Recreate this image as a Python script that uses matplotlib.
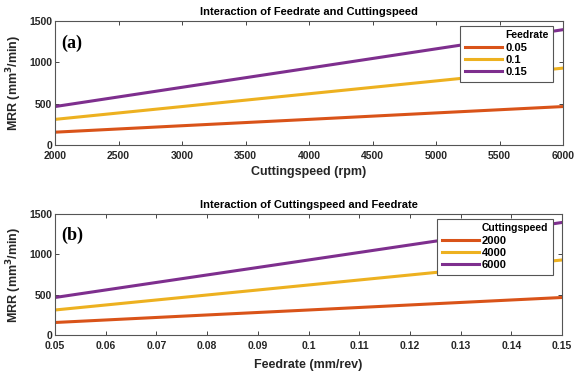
import matplotlib
matplotlib.use("Agg")
import matplotlib.pyplot as plt
from matplotlib.lines import Line2D

plt.rcParams['font.family'] = ['Liberation Sans', 'DejaVu Sans']
plt.rcParams['font.weight'] = 'bold'

# values
speed = [2000, 3000, 4000, 5000, 6000]
mrr_f005 = [155, 233, 310, 388, 465]
mrr_f010 = [310, 465, 620, 775, 930]
mrr_f015 = [465, 698, 930, 1163, 1395]

feed = [0.05, 0.075, 0.10, 0.125, 0.15]
mrr_v2000 = [155, 233, 310, 388, 465]
mrr_v4000 = [310, 465, 620, 775, 930]
mrr_v6000 = [465, 698, 930, 1163, 1395]

colors = ['#D95319', '#EDB120', '#7E2F8E']
dark = '#262626'

W, H = 581, 373
fig = plt.figure(figsize=(W / 100, H / 100), dpi=100)
ax1 = fig.add_axes([55 / W, 1 - 145 / H, 508 / W, 124 / H])
ax2 = fig.add_axes([55 / W, 1 - 335 / H, 507 / W, 121 / H])


def style(ax):
    ax.set_ylim(0, 1500)
    ax.set_yticks([0, 500, 1000, 1500])
    ax.tick_params(direction='in', length=3, width=0.6, colors=dark,
                   labelsize=7.5, top=True, right=True, pad=2)
    ax.tick_params(axis='x', pad=4)
    for sp in ax.spines.values():
        sp.set_color('#555555')
        sp.set_linewidth(0.8)
    ax.set_ylabel('MRR (mm$^{\\mathbf{3}}$/min)', fontsize=9, fontweight='bold',
                  color=dark, labelpad=4)


def legend(ax, title, anchor):
    # title drawn as a first legend row (no handle) so it sits over the label column
    blank = Line2D([], [], color='none')
    handles, labels = ax.get_legend_handles_labels()
    leg = ax.legend([blank] + handles, [title] + labels, loc='upper right',
                    bbox_to_anchor=anchor, fontsize=8, frameon=True, fancybox=False,
                    edgecolor='#555555', handlelength=3.4, handletextpad=0.25,
                    labelspacing=0.2, borderpad=0.4, borderaxespad=0, framealpha=1)
    leg.get_texts()[0].set_fontsize(7.5)
    leg.get_frame().set_linewidth(0.8)
    return leg


# panel (a)
for y, lab, c in zip([mrr_f005, mrr_f010, mrr_f015], ['0.05', '0.1', '0.15'], colors):
    ax1.plot(speed, y, color=c, lw=2.2, label=lab)
ax1.set_xlim(2000, 6000)
ax1.set_xticks(range(2000, 6001, 500))
style(ax1)
ax1.set_xlabel('Cuttingspeed (rpm)', fontsize=9, fontweight='bold', color=dark, labelpad=4)
ax1.set_title('Interaction of Feedrate and Cuttingspeed', fontsize=8, fontweight='bold', pad=4)
legend(ax1, 'Feedrate', ((553 - 55) / 508, (145 - 26) / 124))
ax1.text(0.012, 0.82, '(a)', transform=ax1.transAxes, fontsize=13, fontweight='bold',
         family='Liberation Serif', va='center')

# panel (b)
for y, lab, c in zip([mrr_v2000, mrr_v4000, mrr_v6000], ['2000', '4000', '6000'], colors):
    ax2.plot(feed, y, color=c, lw=2.2, label=lab)
ax2.set_xlim(0.05, 0.15)
ax2.set_xticks([0.05, 0.06, 0.07, 0.08, 0.09, 0.1, 0.11, 0.12, 0.13, 0.14, 0.15])
ax2.set_xticklabels(['0.05', '0.06', '0.07', '0.08', '0.09', '0.1', '0.11', '0.12', '0.13', '0.14', '0.15'])
style(ax2)
ax2.set_xlabel('Feedrate (mm/rev)', fontsize=9, fontweight='bold', color=dark, labelpad=6)
ax2.set_title('Interaction of Cuttingspeed and Feedrate', fontsize=8, fontweight='bold', pad=4)
legend(ax2, 'Cuttingspeed', ((553 - 55) / 507, (335 - 219) / 121))
ax2.text(0.012, 0.82, '(b)', transform=ax2.transAxes, fontsize=13, fontweight='bold',
         family='Liberation Serif', va='center')

fig.savefig('out.png', dpi=100)
